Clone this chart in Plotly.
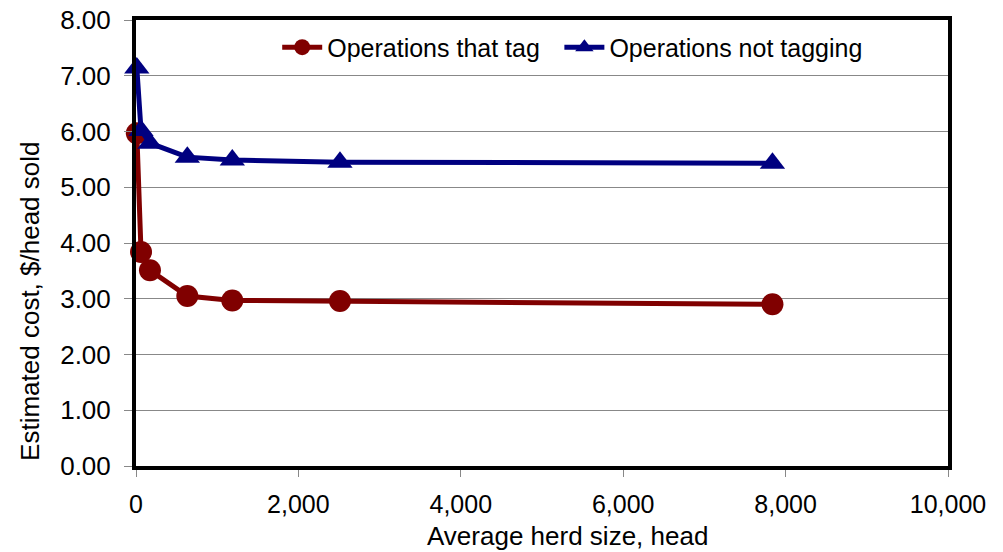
import plotly.graph_objects as go

# herd size (head) and estimated cost ($/head sold)
herd_size = [10, 62, 172, 632, 1186, 2512, 7838]
cost_tag = [5.97, 3.84, 3.51, 3.05, 2.97, 2.96, 2.90]
cost_no_tag = [7.14, 6.02, 5.79, 5.54, 5.49, 5.45, 5.43]

x_ticks = [0, 2000, 4000, 6000, 8000, 10000]
y_ticks = [0, 1, 2, 3, 4, 5, 6, 7, 8]

x_title = "Average herd size, head"
y_title = "Estimated cost, $/head sold"

font = "Arial, Liberation Sans, sans-serif"

fig = go.Figure()

fig.add_trace(go.Scatter(
    x=herd_size, y=cost_tag, name="Operations that tag",
    mode="lines+markers", cliponaxis=False, legend="legend",
    line=dict(color="#800000", width=5),
    marker=dict(symbol="circle", size=22, color="#800000")
))

fig.add_trace(go.Scatter(
    x=herd_size, y=cost_no_tag, name="Operations not tagging",
    mode="lines+markers", cliponaxis=False, legend="legend2",
    line=dict(color="#000080", width=5),
    marker=dict(symbol="triangle-up", size=22, color="#000080")
))

# one legend per series so the two entries can be spaced like the original
leg = dict(orientation="h", y=0.99, xanchor="left", yanchor="top",
           bgcolor="rgba(0,0,0,0)", font=dict(size=25), itemwidth=40)

# page body has an 8px margin, so the figure is a bit smaller than the window
fig.update_layout(
    width=995, height=544,
    margin=dict(l=128, r=55, t=12, b=86),
    paper_bgcolor="white", plot_bgcolor="white",
    font=dict(family=font, size=25, color="black"),
    showlegend=True,
    legend=dict(leg, x=0.1739),
    legend2=dict(leg, x=0.5214),
)

# axis titles placed as annotations (they sit off-centre in the original)
fig.add_annotation(text=x_title, xref="paper", yref="paper", x=0.531, y=-0.157,
                   xanchor="center", yanchor="middle", showarrow=False,
                   font=dict(size=26))
fig.add_annotation(text=y_title, xref="paper", yref="paper", x=-0.1305, y=0.368,
                   xanchor="center", yanchor="middle", showarrow=False,
                   textangle=-90, font=dict(size=26))

fig.update_xaxes(
    range=[0, 10000], tickvals=x_ticks, tickformat=",d", automargin=False,
    showgrid=False, zeroline=False,
    showline=True, mirror=True, linecolor="black", linewidth=4,
    ticks="outside", ticklen=7, tickcolor="#888888", tickwidth=1,
    ticklabelstandoff=6, tickfont=dict(size=25), ticklabeloverflow="allow",
)

fig.update_yaxes(
    range=[0, 8], tickvals=y_ticks, tickformat=".2f", automargin=False,
    showgrid=True, gridcolor="#888888", gridwidth=1, zeroline=False,
    showline=True, mirror=True, linecolor="black", linewidth=4,
    ticks="outside", ticklen=8, tickcolor="#888888", tickwidth=1,
    ticklabelstandoff=8, tickfont=dict(size=26), ticklabeloverflow="allow",
)

fig.write_html("out.html")
